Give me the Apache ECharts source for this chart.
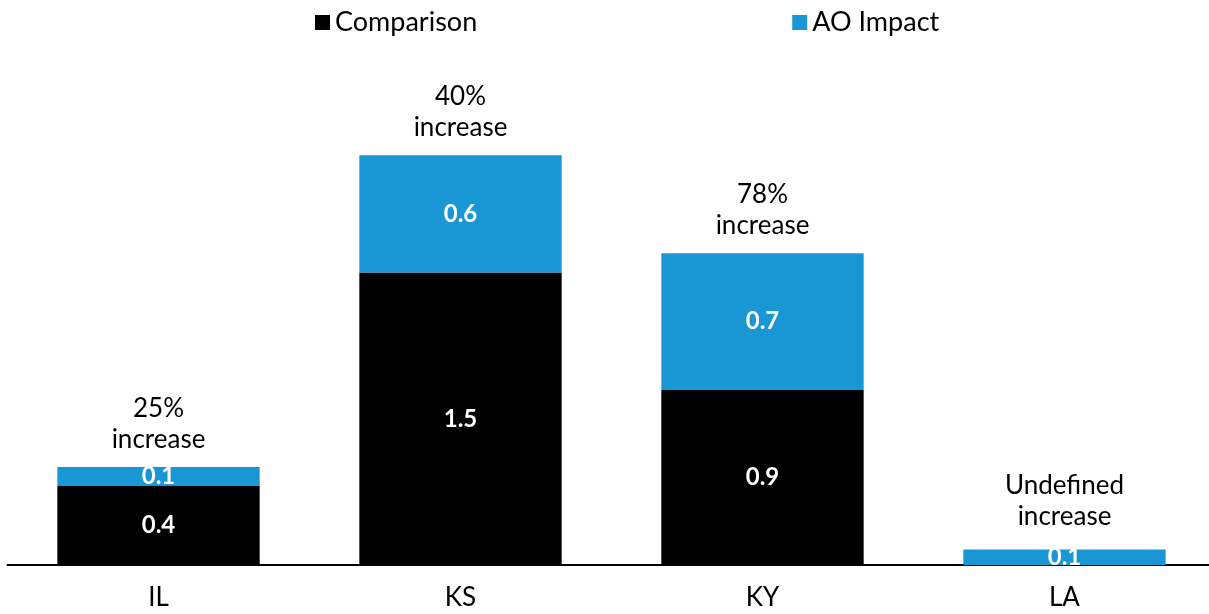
<!DOCTYPE html>
<html><head><meta charset="utf-8">
<script src="https://cdn.jsdelivr.net/npm/echarts@6/dist/echarts.min.js"></script>
<style>html,body{margin:0;padding:0;background:#fff}#c{width:1209px;height:614px}</style>
</head><body><div id="c"></div>
<script>
const categories = ['IL', 'KS', 'KY', 'LA'];
const comparison = [0.41, 1.52, 0.91, 0];
const aoImpact = [0.1, 0.61, 0.71, 0.08];
const annotations = ['25%\nincrease', '40%\nincrease', '78%\nincrease', 'Undefined\nincrease'];

const FONT = 'Lato';
const chart = echarts.init(document.getElementById('c'), null, {renderer: 'canvas'});
chart.setOption({
  animation: false,
  textStyle: {fontFamily: FONT},
  legend: {
    data: ['Comparison', 'AO Impact'],
    left: 310, top: 4, padding: 5,
    itemWidth: 15, itemHeight: 15, itemGap: 315,
    icon: 'rect',
    textStyle: {fontFamily: FONT, fontSize: 27, color: '#000'}
  },
  grid: {left: 7.5, width: 1208, top: 84, bottom: 49, containLabel: false, outerBoundsMode: 'none'},
  xAxis: {
    type: 'category', data: categories,
    axisLine: {lineStyle: {color: '#000', width: 2}},
    axisTick: {show: false},
    axisLabel: {fontFamily: FONT, fontSize: 26, color: '#000', margin: 20}
  },
  yAxis: {type: 'value', min: 0, max: 2.5, show: false, splitLine: {show: false}},
  series: [
    {
      name: 'Comparison', type: 'bar', stack: 's', barWidth: '67%',
      itemStyle: {color: '#000'},
      data: comparison,
      label: {show: true, position: 'inside', color: '#fff', fontFamily: FONT, fontWeight: 'bold', fontSize: 24,
        formatter: p => p.value > 0 ? p.value.toFixed(1) : ''}
    },
    {
      name: 'AO Impact', type: 'bar', stack: 's', barWidth: '67%',
      itemStyle: {color: '#1897D4'},
      data: aoImpact,
      label: {show: true, position: 'inside', color: '#fff', fontFamily: FONT, fontWeight: 'bold', fontSize: 24,
        formatter: p => p.value.toFixed(1)}
    },
    {
      name: 'note', type: 'bar', stack: 's', barWidth: '67%',
      itemStyle: {color: 'transparent'},
      data: categories.map((c, i) => i === 3 ? {value: 0, label: {distance: 17}} : 0),
      label: {show: true, position: 'top', distance: 12, color: '#000', fontFamily: FONT, fontSize: 26, lineHeight: 31,
        formatter: p => annotations[p.dataIndex]}
    }
  ]
});
</script></body></html>
